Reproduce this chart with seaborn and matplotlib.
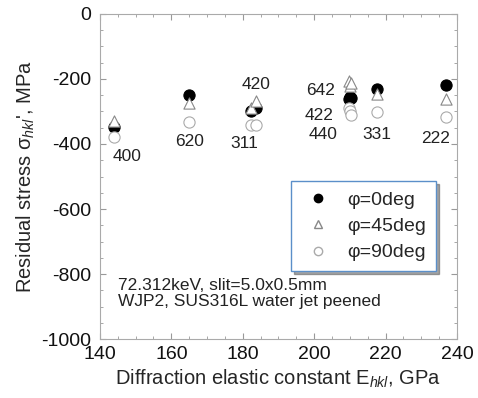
import numpy as np
import pandas as pd
import matplotlib
matplotlib.use("Agg")
import matplotlib.pyplot as plt
import seaborn as sns
from matplotlib.ticker import MultipleLocator

# reflections and diffraction elastic constants (GPa)
hkl = ['400', '620', '311', '420', '642', '422', '440', '331', '222']
e_hkl = [144.0, 165.0, 182.3, 183.6, 209.8, 210.0, 210.2, 217.5, 236.8]

# residual stress (MPa) for each phi
phi0 = [-348, -250, -300, -290, -262, -255, -258, -232, -218]
phi45 = [-330, -275, -288, -268, -205, -222, -212, -247, -262]
phi90 = [-378, -331, -342, -342, -288, -300, -312, -301, -318]

# label positions for hkl text
lab_x = [147.5, 165.0, 180.4, 183.7, 201.8, 201.3, 202.4, 217.6, 234.0]
lab_y = [-439, -393, -398, -218, -234, -311, -372, -370, -382]

df = pd.DataFrame({'E': e_hkl, 'phi0': phi0, 'phi45': phi45, 'phi90': phi90})

sns.set_style('ticks')
plt.rcParams['font.family'] = ['Liberation Sans', 'DejaVu Sans']
plt.rcParams['axes.unicode_minus'] = False
plt.rcParams['mathtext.fontset'] = 'custom'
plt.rcParams['mathtext.rm'] = 'Liberation Sans'
plt.rcParams['mathtext.it'] = 'Liberation Sans:italic'

fig = plt.figure(figsize=(4.78, 3.98), dpi=100)
ax = fig.add_axes([0.209, 0.148, 0.747, 0.817])

sns.scatterplot(data=df, x='E', y='phi0', ax=ax, marker='o', s=65,
                color='black', edgecolor='black', linewidth=0.8, zorder=3)
sns.scatterplot(data=df, x='E', y='phi45', ax=ax, marker='^', s=65,
                facecolor='white', edgecolor='#888888', linewidth=0.8, zorder=4)
sns.scatterplot(data=df, x='E', y='phi90', ax=ax, marker='o', s=65,
                facecolor='white', edgecolor='#aaaaaa', linewidth=0.8, zorder=5)

for t, x, y in zip(hkl, lab_x, lab_y):
    ax.text(x, y, t, ha='center', va='center', fontsize=12.5, color='#222222')

ax.set_xlim(140, 240)
ax.set_ylim(-1000, 0)
ax.xaxis.set_major_locator(MultipleLocator(20))
ax.xaxis.set_minor_locator(MultipleLocator(5))
ax.yaxis.set_major_locator(MultipleLocator(200))
ax.yaxis.set_minor_locator(MultipleLocator(50))
ax.tick_params(which='both', direction='in', top=True, right=True,
               color='#999999', labelsize=14, labelcolor='#111111')
ax.tick_params(axis='y', pad=6)
ax.tick_params(axis='x', pad=5)
ax.tick_params(which='major', length=4)
ax.tick_params(which='minor', length=2)
for sp in ax.spines.values():
    sp.set_color('#aaaaaa')
    sp.set_linewidth(0.8)

ax.set_xlabel('Diffraction elastic constant E$_{hkl}$, GPa', fontsize=14.5, labelpad=3)
ax.set_ylabel("Residual stress σ$_{hkl}$', MPa", fontsize=14.5, labelpad=3)

ax.text(0.052, 0.14, '72.312keV, slit=5.0x0.5mm\nWJP2, SUS316L water jet peened',
        transform=ax.transAxes, fontsize=12.5, va='center', ha='left',
        linespacing=1.05, color='#222222')

h0 = plt.Line2D([], [], marker='o', ls='', color='black', markersize=6)
h45 = plt.Line2D([], [], marker='^', ls='', markerfacecolor='white',
                 markeredgecolor='#888888', markersize=6)
h90 = plt.Line2D([], [], marker='o', ls='', markerfacecolor='white',
                 markeredgecolor='#aaaaaa', markersize=6)
leg = ax.legend([h0, h45, h90], ['φ=0deg', 'φ=45deg', 'φ=90deg'],
                loc='upper left', bbox_to_anchor=(0.535, 0.485),
                borderaxespad=0, fontsize=14, frameon=True, fancybox=False,
                shadow=True, handletextpad=0.6, borderpad=0.5,
                labelspacing=0.45, handlelength=1.8)
leg.get_frame().set_edgecolor('#5b8fc9')
leg.get_frame().set_linewidth(1.0)

fig.savefig('out.png', dpi=100)
